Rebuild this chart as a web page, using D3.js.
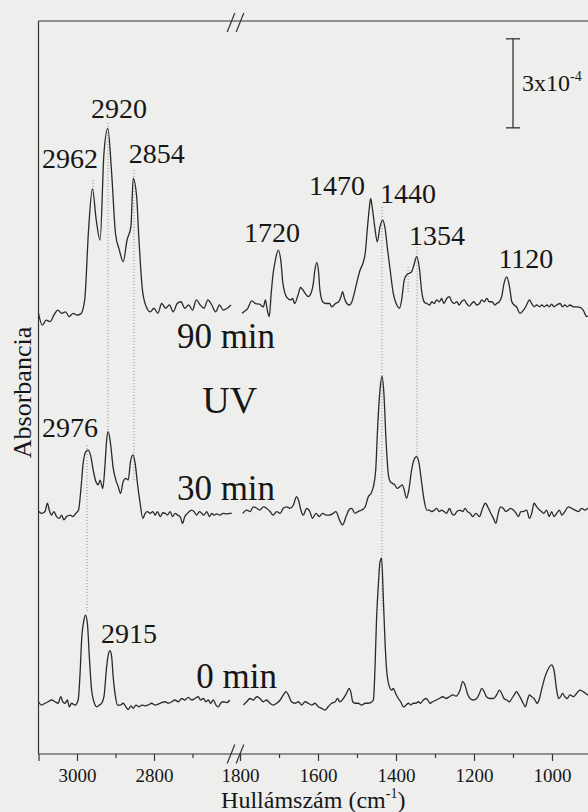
<!DOCTYPE html>
<meta charset="utf-8">
<head>
    <title>IR spektrumok - UV besugárzás</title>
    <script type="text/javascript" src="https://d3js.org/d3.v7.min.js"></script>
    <style>
        body { margin: 0; background: #eeeeec; }
        svg { display: block; }
        text { font-family: "Liberation Serif", "Times New Roman", serif; fill: #161616; }
        .tick line { stroke: #333; stroke-width: 1.2; }
    </style>
</head>
<body>
<script>
    // ---------- data (absorbance in 1e-4 units, relative to each baseline) ----------
    var wn90 = [3100,3090,3080,3070,3060,3050,3040,3030,3020,3010,3000,2990,2980,2970,2960,2950,2940,2930,2920,2910,2900,2890,2880,2870,2860,2854,2845,2840,2830,2820,2810,2800,2790,2780,2770,2760,2750,2740,2730,2720,2710,2700,2690,2680,2670,2660,2650,2640,2630,2620,2610,2600,
        1795,1790,1780,1770,1760,1750,1740,1735,1730,1725,1720,1715,1710,1702,1695,1690,1680,1670,1665,1660,1650,1645,1640,1630,1625,1620,1612,1608,1603,1599,1595,1588,1580,1570,1565,1555,1547,1541,1537,1532,1526,1520,1513,1508,1501,1492,1485,1479,1473,1468,1465,1460,1454,1448,1441,1434,1428,1422,1415,1407,1398,1391,1385,1379,1373,1366,1360,1354,1347,1340,1334,1328,1321,1314,1308,1302,1296,1289,1283,1277,1270,1263,1257,1251,1244,1238,1232,1225,1219,1212,1206,1200,1193,1186,1180,1174,1167,1161,1154,1146,1142,1135,1129,1123,1116,1109,1103,1097,1091,1082,1073,1065,1058,1052,1046,1039,1032,1026,1020,1013,1007,1001,995,988,979,973,967,961,954,945,937,928,920,911,900];
    var ab90 = [-0.11,-0.51,-0.34,-0.39,-0.17,0,-0.11,-0.06,-0.22,-0.11,-0.17,-0.13,0.34,2.70,4.08,3.03,2.36,5.28,6.12,4.61,2.58,2.02,1.63,2.36,2.81,4.44,3.82,2.58,0.67,0.11,-0.06,0.06,-0.11,0.22,0.06,0.17,-0.06,0.22,0.28,0.06,0.17,0,0.34,0.17,0.06,0.34,0.17,-0.06,0.17,0,0.06,0.17,
        -0.11,-0.06,0.06,0.31,0.22,0.20,0.11,0.34,0,-0.22,0.56,1.24,1.63,2.02,1.63,0.90,0.43,0.34,0.39,0.22,0.56,0.76,0.70,0.51,0.45,0.51,0.90,1.35,1.60,1.35,0.67,0.28,0.22,0.22,0.11,0.22,0.28,0.45,0.62,0.39,0.22,0.17,0.28,0.51,0.90,1.35,1.57,1.91,2.81,3.48,3.76,3.37,2.75,2.30,2.81,3.03,2.75,2.08,1.35,0.56,0.17,0.06,0.39,1.01,1.18,1.24,1.29,1.52,1.80,1.40,0.62,0.28,0.22,0.17,0.28,0.22,0.34,0.28,0.39,0.22,0.39,0.45,0.28,0.22,0.28,0.17,0.28,0.34,0.22,0.13,0.22,0.28,0.17,0.22,0.34,0.28,0.39,0.28,0.28,0.17,0.22,0.28,0.45,0.90,1.12,0.79,0.28,0.17,0.11,-0.11,0,0.17,0.34,0.22,0.11,0.17,0.11,0.17,0.11,0.17,0.11,0.20,0.11,0.17,0.22,0.11,0.17,0.11,0.17,0.11,0.11,0.09,0,-0.22,-0.11];

    var wn30 = [3099,3092,3083,3077,3072,3066,3060,3053,3046,3040,3034,3027,3018,3011,3003,2996,2990,2984,2977,2971,2964,2958,2951,2945,2940,2933,2927,2923,2919,2913,2906,2899,2893,2887,2880,2873,2867,2861,2855,2849,2843,2836,2829,2823,2817,2810,2803,2797,2791,2784,2777,2771,2765,2758,2752,2745,2739,2732,2726,2720,2713,2708,2702,2696,2689,2682,2676,2670,2663,2656,2650,2644,2637,2629,2620,2611,2603,2598,
        1793,1783,1774,1766,1757,1749,1740,1732,1723,1715,1706,1697,1689,1680,1672,1663,1655,1650,1644,1638,1629,1621,1614,1605,1597,1588,1579,1571,1561,1554,1545,1537,1528,1520,1514,1505,1497,1488,1479,1471,1464,1458,1452,1447,1441,1436,1431,1426,1420,1415,1409,1403,1397,1390,1384,1379,1373,1367,1360,1354,1347,1341,1334,1328,1321,1315,1309,1303,1296,1289,1283,1277,1270,1263,1257,1251,1244,1236,1229,1223,1217,1210,1203,1195,1186,1178,1171,1163,1157,1150,1144,1138,1132,1125,1118,1112,1106,1099,1092,1086,1080,1074,1065,1058,1052,1046,1039,1032,1027,1021,1014,1007,1001,995,988,981,975,967,958,950,941,932,924,915,908,900];
    var ab30 = [0.06,0,0.06,0.34,0.11,-0.06,0.06,-0.11,-0.17,-0.06,-0.22,-0.11,-0.06,-0.11,0,0.11,0.79,1.69,2.08,2.13,1.91,1.46,1.07,0.96,1.12,0.84,1.69,2.47,2.75,2.36,1.52,1.12,0.90,0.67,1.07,1.18,1.12,1.74,1.97,1.69,1.01,0.34,-0.17,0,0.06,0,0.06,-0.06,0.06,-0.11,0.02,0,-0.06,0.06,-0.11,0,-0.06,-0.11,-0.34,-0.11,0,0.06,0.11,0.06,-0.06,0.06,0,-0.06,0.06,-0.11,0,-0.06,-0.02,-0.06,0,-0.02,0,0,
        0,0.11,0.06,0.22,0.17,0.11,0.22,0.17,0.06,-0.06,0.06,0,0.17,0.22,0.17,0.28,0.56,0.45,0.11,-0.06,0.17,0.06,-0.17,0,-0.11,0,-0.06,-0.06,0,0.06,-0.22,-0.39,-0.11,0.13,0.17,0,0.06,0.11,0.22,0.56,0.67,0.90,1.46,2.92,4.16,4.61,4.04,2.58,1.35,1.07,1.01,0.96,0.84,0.90,0.96,0.79,0.51,0.79,1.46,1.80,1.91,1.69,1.01,0.45,0.11,0.11,0.06,0.09,0.17,0.06,0.11,0.06,0,0.17,0,-0.06,0.06,0.11,0.06,0.17,0.06,0,-0.11,0,-0.11,0.17,0.34,0.17,0,-0.17,-0.34,0,0.22,0.17,0.06,0.11,0.17,0.11,0,-0.11,0.06,0.06,0.11,-0.17,0,0.34,0.22,0.11,0.06,0,0.11,-0.11,0.06,-0.11,0,0.11,-0.06,0.06,0.22,0.17,0.11,0.06,0.17,0.11,0.17,0.11];

    var wn0 = [3100,3092,3083,3075,3066,3057,3049,3042,3037,3031,3025,3020,3014,3005,2997,2992,2988,2982,2978,2973,2968,2962,2953,2949,2942,2936,2930,2923,2918,2914,2910,2906,2900,2895,2888,2880,2873,2867,2860,2854,2847,2838,2832,2823,2815,2806,2797,2789,2780,2771,2763,2754,2746,2737,2728,2720,2711,2702,2694,2685,2679,2672,2665,2659,2653,2646,2639,2633,2627,2620,2611,2603,
        1791,1783,1774,1766,1757,1749,1740,1732,1723,1715,1706,1697,1689,1682,1676,1668,1659,1650,1642,1633,1625,1616,1608,1599,1591,1582,1574,1565,1556,1550,1544,1535,1527,1520,1515,1511,1505,1497,1488,1479,1471,1462,1458,1454,1450,1445,1441,1437,1432,1428,1424,1417,1411,1407,1401,1394,1388,1381,1374,1368,1362,1356,1349,1343,1337,1330,1323,1317,1313,1306,1297,1289,1280,1272,1263,1255,1246,1236,1229,1223,1217,1210,1202,1193,1186,1180,1174,1168,1159,1150,1142,1135,1129,1123,1116,1109,1103,1097,1091,1085,1080,1074,1068,1063,1058,1052,1046,1041,1038,1032,1027,1018,1009,1001,995,988,983,978,973,967,961,954,945,937,928,920,908,900];
    var ab0 = [0.01,-0.10,-0.04,0.01,0.07,0.01,-0.04,0.18,0.01,-0.04,0.07,-0.16,-0.04,-0.10,0.07,0.97,2.09,2.76,2.93,2.65,1.53,0.40,-0.10,-0.16,-0.10,-0.04,0.18,1.19,1.64,1.73,1.53,0.85,0.18,-0.10,-0.10,-0.04,-0.16,-0.25,-0.13,-0.21,-0.10,-0.16,-0.10,-0.13,-0.10,-0.04,-0.10,-0.07,-0.02,0.01,-0.04,0.01,0.07,0.01,0.12,0.07,0.16,0.07,0.12,0.18,0.07,0.12,0.01,0.07,-0.04,0.07,-0.10,-0.16,-0.04,0.01,-0.02,0.07,
        -0.10,0.01,0.12,0.07,0.18,0.12,0.01,0.07,-0.04,-0.10,-0.04,0.07,0.24,0.35,0.24,0.01,-0.04,0.01,-0.10,0.01,-0.04,-0.10,-0.04,-0.16,-0.21,-0.27,-0.16,-0.04,0.01,0.12,0.01,0.12,0.29,0.46,0.29,0.01,-0.04,-0.04,-0.10,-0.04,-0.04,0.01,0.07,1.08,2.76,4.00,4.72,4.85,3.33,1.98,1.08,0.52,0.40,0.46,0.29,0.12,0.01,-0.16,-0.10,-0.04,-0.10,-0.04,-0.04,0.01,-0.04,0.07,0.12,0.04,-0.04,0.01,0.07,0.12,0.18,0.12,0.18,0.24,0.20,0.40,0.69,0.57,0.29,0.12,0.07,0.12,0.29,0.46,0.35,0.18,0.12,0.12,0.24,0.40,0.29,0.12,0.07,0.01,0.12,0.24,0.35,0.24,0.12,-0.04,-0.16,0.07,0.24,0.18,0.12,0.01,-0.04,0.12,0.40,0.85,1.13,1.25,1.08,0.40,0.12,0.18,0.29,0.18,0.12,0.24,0.18,0.29,0.40,0.35,0.24,0.18];

    // stacking offsets of the three spectra
    var spectrumNames = ["90 min", "30 min", "0 min"];
    var baselines = [14.96, 8.11, 1.75];

    // condition labels (right end of text)
    var condText = ["90 min", "UV", "30 min", "0 min"];
    var condWn = [1710, 1756, 1710, 1705];
    var condAb = [13.68, 11.49, 8.56, 2.22];

    // peak labels (centre of text)
    var peakText = ["2962", "2920", "2854", "1720", "1470", "1440", "1354", "1120", "2976", "2915"];
    var peakWn = [3018, 2891, 2793, 1718, 1551, 1369, 1295, 1067, 3018, 2865];
    var peakAb = [19.74, 21.42, 19.9, 17.25, 18.83, 18.56, 17.15, 16.37, 10.68, 3.74];

    // dotted guide lines
    var guideWn = [2958, 2919.5, 2852, 2974, 1436, 1346, 1369];
    var guideTop = [19.34, 21.26, 19.68, 10.41, 18.43, 17.08, 16.41];
    var guideBottom = [19.0, 10.92, 9.23, 4.75, 4.78, 9.91, 15.57];

    // axis ticks
    var majorLeft = [3100, 3000, 2800], minorLeft = [2900, 2700];
    var majorRight = [1800, 1600, 1400, 1200, 1000], minorRight = [1700, 1500, 1300, 1100, 900];

    // scale bar: 3x10^-4
    var barWn = 1100, barFrom = 21.1, barLength = 3;

    // ---------- layout ----------
    var width = 588, height = 812;
    var svg = d3.select("body").append("svg")
        .attr("width", width)
        .attr("height", height);
    svg.append("rect").attr("width", width).attr("height", height).attr("fill", "#eeeeec");

    var xLeft = d3.scaleLinear().domain([3100, 2600]).range([38.5, 231]);
    var xRight = d3.scaleLinear().domain([1800, 900]).range([240, 591]);
    var y = d3.scaleLinear().domain([0, 24.7]).range([754, 21]);
    function xOf(w) { return w > 2000 ? xLeft(w) : xRight(w); }
    var xBreak = (xLeft(2600) + xRight(1800)) / 2;

    // frame lines
    var frame = svg.append("g").attr("stroke", "#333").attr("stroke-width", 1.2);
    frame.append("line").attr("x1", xLeft(3100)).attr("x2", xRight(900)).attr("y1", y(24.7)).attr("y2", y(24.7));
    frame.append("line").attr("x1", xLeft(3100)).attr("x2", xRight(900)).attr("y1", y(0)).attr("y2", y(0));
    frame.append("line").attr("x1", xLeft(3100)).attr("x2", xLeft(3100)).attr("y1", y(24.7)).attr("y2", y(0));

    // break marks //
    [y(24.7) + 1.5, y(0)].forEach(function(yy) {
        [-4.5, 4.5].forEach(function(dx) {
            frame.append("line")
                .attr("x1", xBreak + dx - 3.8).attr("y1", yy + 9.5)
                .attr("x2", xBreak + dx + 3.8).attr("y2", yy - 9.5);
        });
    });

    // x axes
    function drawAxis(scale, major, minor) {
        svg.append("g")
            .attr("transform", "translate(0," + y(0) + ")")
            .call(d3.axisBottom(scale).tickValues(major).tickSize(7).tickPadding(8)
                .tickFormat(function(d) { return d === 3100 ? "" : d; }))
            .call(function(g) {
                g.select(".domain").remove();
                g.selectAll("text").attr("font-size", 19).attr("font-family", null).attr("fill", "#161616");
            });
        svg.append("g")
            .attr("transform", "translate(0," + y(0) + ")")
            .call(d3.axisBottom(scale).tickValues(minor).tickSize(4).tickFormat(""))
            .call(function(g) { g.select(".domain").remove(); });
    }
    drawAxis(xLeft, majorLeft, minorLeft);
    drawAxis(xRight, majorRight, minorRight);

    // dotted guides
    svg.append("g").selectAll("line")
        .data(guideWn)
        .enter().append("line")
        .attr("x1", function(d) { return xOf(d); })
        .attr("x2", function(d) { return xOf(d); })
        .attr("y1", function(d, i) { return y(guideTop[i]); })
        .attr("y2", function(d, i) { return y(guideBottom[i]); })
        .attr("stroke", "#8a8a8a")
        .attr("stroke-width", 1)
        .attr("stroke-dasharray", "1,2");

    // spectra
    var line = d3.line()
        .x(function(d) { return xOf(d[0]); })
        .y(function(d) { return y(d[1]); })
        .curve(d3.curveMonotoneX);
    var spectra = [[wn90, ab90], [wn30, ab30], [wn0, ab0]];
    spectra.forEach(function(s, i) {
        var pts = s[0].map(function(w, j) { return [w, s[1][j] + baselines[i]]; });
        var segs = [pts.filter(function(p) { return p[0] > 2000; }),
                    pts.filter(function(p) { return p[0] < 2000; })];
        segs.forEach(function(seg) {
            svg.append("path")
                .attr("class", "spectrum")
                .attr("d", line(seg))
                .attr("fill", "none")
                .attr("stroke", "#2a2a2a")
                .attr("stroke-width", 1.3)
                .attr("stroke-linejoin", "round");
        });
    });

    // peak labels
    svg.append("g").selectAll("text")
        .data(peakText)
        .enter().append("text")
        .attr("x", function(d, i) { return xOf(peakWn[i]); })
        .attr("y", function(d, i) { return y(peakAb[i]); })
        .attr("text-anchor", "middle")
        .attr("font-size", 28)
        .text(function(d) { return d; });

    // condition labels
    svg.append("g").selectAll("text")
        .data(condText)
        .enter().append("text")
        .attr("x", function(d, i) { return xOf(condWn[i]); })
        .attr("y", function(d, i) { return y(condAb[i]); })
        .attr("text-anchor", "end")
        .attr("font-size", function(d) { return d === "UV" ? 38 : 35; })
        .text(function(d) { return d; });

    // scale bar
    var bx = xOf(barWn);
    var bar = svg.append("g").attr("stroke", "#333").attr("stroke-width", 1.3);
    bar.append("line").attr("x1", bx).attr("x2", bx).attr("y1", y(barFrom)).attr("y2", y(barFrom + barLength));
    [barFrom, barFrom + barLength].forEach(function(v) {
        bar.append("line").attr("x1", bx - 7).attr("x2", bx + 7).attr("y1", y(v)).attr("y2", y(v));
    });
    var barLabel = svg.append("text")
        .attr("x", bx + 9)
        .attr("y", y(barFrom + barLength / 2) + 8)
        .attr("font-size", 24)
        .text("3x10");
    barLabel.append("tspan").attr("dy", -10).attr("font-size", 14).text("-4");

    // axis titles
    svg.append("text")
        .attr("transform", "translate(31," + ((y(0) + y(24.7)) / 2 + 5) + ") rotate(-90)")
        .attr("text-anchor", "middle")
        .attr("font-size", 26)
        .text("Absorbancia");

    var xTitle = svg.append("text")
        .attr("x", (xLeft(3100) + 588) / 2)
        .attr("y", 808)
        .attr("text-anchor", "middle")
        .attr("font-size", 24)
        .text("Hullámszám (cm");
    xTitle.append("tspan").attr("dy", -10).attr("font-size", 14).text("-1");
    xTitle.append("tspan").attr("dy", 10).text(")");
</script>
</body>
</html>
